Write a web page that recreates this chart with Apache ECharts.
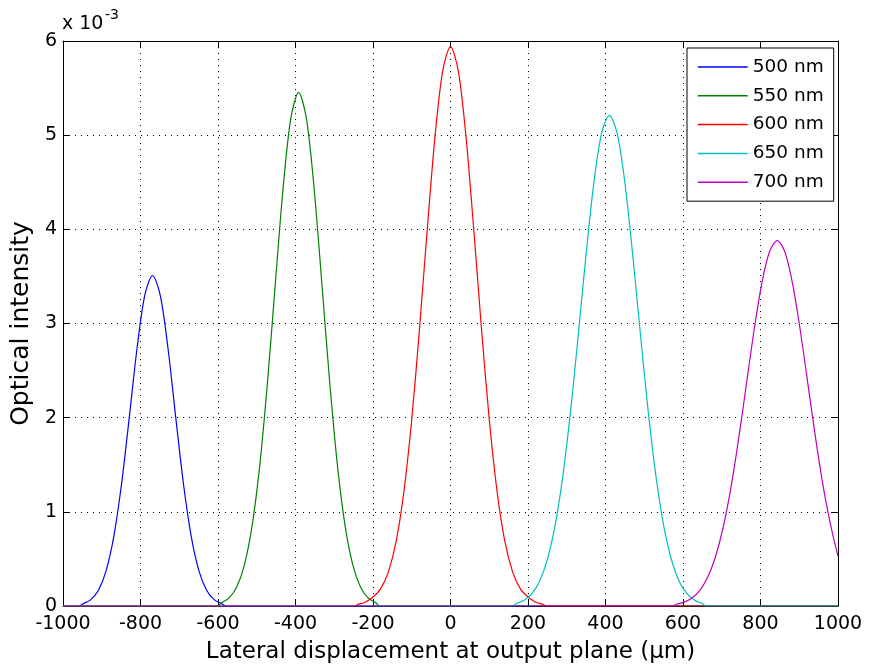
<!DOCTYPE html>
<html><head><meta charset="utf-8">
<script src="https://cdn.jsdelivr.net/npm/echarts@6/dist/echarts.min.js"></script>
<style>html,body{margin:0;padding:0;background:#fff}#c{width:870px;height:669px}</style>
</head><body><div id="c"></div>
<script>
// Values of optical intensity are in units of 1e-3 (axis shows "x 10^-3")
const seriesNames = ['500 nm', '550 nm', '600 nm', '650 nm', '700 nm'];
const seriesColors = ['#0000ff', '#008000', '#ff0000', '#00bfbf', '#bf00bf'];

const x500 = [-1000, -958, -949, -929, -909, -889, -869, -849, -829, -809, -789, -769, -749, -729, -709, -689, -669, -649, -629, -609, -589, -580, 1000];
const y500 = [0, 0, 0.022, 0.065, 0.165, 0.371, 0.737, 1.293, 2.001, 2.734, 3.298, 3.510, 3.298, 2.734, 2.001, 1.293, 0.737, 0.371, 0.165, 0.065, 0.022, 0, 0];

const x550 = [-1000, -601, -592, -572, -552, -532, -512, -492, -472, -452, -432, -412, -392, -372, -352, -332, -312, -292, -272, -252, -232, -212, -192, -183, 1000];
const y550 = [0, 0, 0.031, 0.083, 0.200, 0.435, 0.851, 1.501, 2.389, 3.428, 4.437, 5.181, 5.455, 5.181, 4.437, 3.428, 2.389, 1.501, 0.851, 0.435, 0.200, 0.083, 0.031, 0, 0];

const x600 = [-1000, -246, -240, -220, -200, -180, -160, -140, -120, -100, -80, -60, -40, -20, 0, 20, 40, 60, 80, 100, 120, 140, 160, 180, 200, 220, 240, 246, 1000];
const y600 = [0, 0, 0.015, 0.040, 0.095, 0.185, 0.365, 0.691, 1.223, 1.982, 2.943, 4.001, 4.984, 5.685, 5.940, 5.685, 4.984, 4.001, 2.943, 1.982, 1.223, 0.691, 0.365, 0.185, 0.095, 0.040, 0.015, 0, 0];

const x650 = [-1000, 160, 170, 190, 210, 230, 250, 270, 290, 310, 330, 350, 370, 390, 410, 430, 450, 470, 490, 510, 530, 550, 570, 590, 610, 630, 650, 660, 1000];
const y650 = [0, 0, 0.026, 0.061, 0.131, 0.264, 0.494, 0.857, 1.384, 2.075, 2.891, 3.740, 4.496, 5.021, 5.210, 5.021, 4.496, 3.740, 2.891, 2.075, 1.384, 0.857, 0.494, 0.264, 0.131, 0.061, 0.026, 0, 0];

const x700 = [-1000, 574, 583, 603, 623, 643, 663, 683, 703, 723, 743, 763, 783, 803, 823, 843, 863, 883, 903, 923, 943, 963, 983, 1000];
const y700 = [0, 0, 0.019, 0.041, 0.084, 0.164, 0.299, 0.512, 0.823, 1.242, 1.759, 2.338, 2.918, 3.419, 3.759, 3.880, 3.759, 3.419, 2.918, 2.338, 1.759, 1.242, 0.823, 0.530];

const xTickValues = [-1000, -800, -600, -400, -200, 0, 200, 400, 600, 800, 1000];
const yTickValues = [0, 1, 2, 3, 4, 5, 6];
const xTitle = 'Lateral displacement at output plane (μm)';
const yTitle = 'Optical intensity';

const FONT = 'DejaVu Sans';
const xs = [x500, x550, x600, x650, x700];
const ys = [y500, y550, y600, y650, y700];

const axisLineStyle = {color: '#000', width: 1};
const gridDash = {color: '#000', width: 1, type: [1, 5]};

const chart = echarts.init(document.getElementById('c'), null, {renderer: 'canvas'});
chart.setOption({
  animation: false,
  backgroundColor: '#fff',
  grid: {left: 63, right: 32, top: 41, bottom: 62},
  xAxis: [{
    type: 'value', min: xTickValues[0], max: xTickValues[xTickValues.length - 1], interval: 200,
    position: 'bottom',
    axisLine: {show: true, onZero: false, lineStyle: axisLineStyle},
    axisTick: {show: true, inside: true, length: 6, lineStyle: axisLineStyle},
    axisLabel: {color: '#000', fontFamily: FONT, fontSize: 19, margin: 9, formatter: v => String(v)},
    splitLine: {show: true, lineStyle: gridDash},
    name: xTitle, nameLocation: 'middle', nameGap: 35,
    nameTextStyle: {color: '#000', fontFamily: FONT, fontSize: 23}
  }, {
    type: 'value', min: xTickValues[0], max: xTickValues[xTickValues.length - 1], interval: 200,
    position: 'top',
    axisLine: {show: true, onZero: false, lineStyle: axisLineStyle},
    axisTick: {show: true, inside: true, length: 6, lineStyle: axisLineStyle},
    axisLabel: {show: false},
    splitLine: {show: false}
  }],
  yAxis: [{
    type: 'value', min: yTickValues[0], max: yTickValues[yTickValues.length - 1], interval: 1,
    position: 'left',
    axisLine: {show: true, onZero: false, lineStyle: axisLineStyle},
    axisTick: {show: true, inside: true, length: 6, lineStyle: axisLineStyle},
    axisLabel: {color: '#000', fontFamily: FONT, fontSize: 19, margin: 6, formatter: v => String(v)},
    splitLine: {show: true, lineStyle: gridDash},
    name: yTitle, nameLocation: 'middle', nameGap: 24,
    nameTextStyle: {color: '#000', fontFamily: FONT, fontSize: 25}
  }, {
    type: 'value', min: yTickValues[0], max: yTickValues[yTickValues.length - 1], interval: 1,
    position: 'right',
    axisLine: {show: true, onZero: false, lineStyle: axisLineStyle},
    axisTick: {show: true, inside: true, length: 6, lineStyle: axisLineStyle},
    axisLabel: {show: false},
    splitLine: {show: false}
  }],
  legend: {
    orient: 'vertical', left: 687, top: 48,
    padding: [9.5, 10, 9.5, 10],
    itemWidth: 50, itemHeight: 14, itemGap: 9.8,
    backgroundColor: '#fff', borderColor: '#000', borderWidth: 1, borderRadius: 0,
    itemStyle: {opacity: 0},
    lineStyle: {width: 1.5},
    textStyle: {fontFamily: FONT, fontSize: 18.5, color: '#000'},
    data: seriesNames
  },
  graphic: [
    {type: 'text', left: 62, top: 15, style: {text: 'x 10', font: '19px "DejaVu Sans"', fill: '#000'}},
    {type: 'text', left: 105, top: 8, style: {text: '-3', font: '14px "DejaVu Sans"', fill: '#000'}}
  ],
  series: seriesNames.map((name, i) => ({
    name: name,
    type: 'line',
    xAxisIndex: 0, yAxisIndex: 0,
    symbol: 'none', showSymbol: false,
    smooth: 0.3,
    lineStyle: {color: seriesColors[i], width: 1.2},
    itemStyle: {color: seriesColors[i]},
    data: xs[i].map((x, k) => [x, ys[i][k]])
  }))
});
</script></body></html>
